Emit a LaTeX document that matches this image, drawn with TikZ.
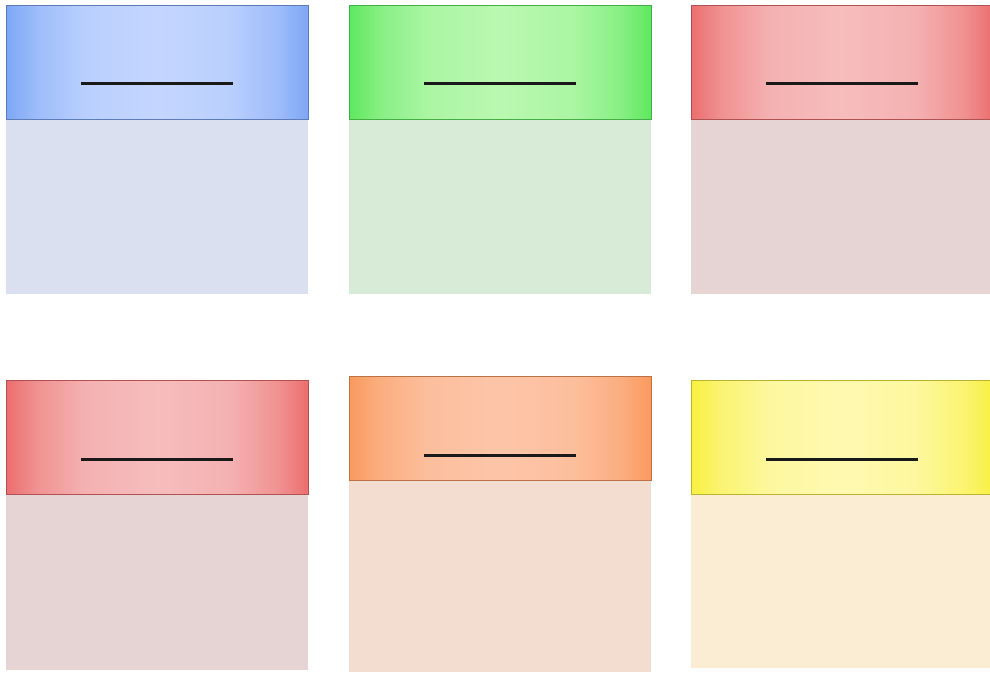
\documentclass[tikz,border=0pt]{standalone}
\definecolor{bE}{HTML}{7DA7F5}\definecolor{bC}{HTML}{C4D6FF}\definecolor{bB}{HTML}{DAE0F0}
\definecolor{gE}{HTML}{5EE85E}\definecolor{gC}{HTML}{B9F8B0}\definecolor{gB}{HTML}{D8EBD6}
\definecolor{rE}{HTML}{EC6E6E}\definecolor{rC}{HTML}{F6BDBD}\definecolor{rB}{HTML}{E6D3D3}
\definecolor{oE}{HTML}{F99A5E}\definecolor{oC}{HTML}{FDC5A8}\definecolor{oB}{HTML}{F2DDD0}
\definecolor{yE}{HTML}{F8F040}\definecolor{yC}{HTML}{FEF9B0}\definecolor{yB}{HTML}{FBEDD3}
\newcommand{\mkshade}[3]{%
  \pgfdeclarehorizontalshading{#1}{100bp}{%
    color(0bp)=(#2); color(25bp)=(#2);
    color(30bp)=(#3!45!#2); color(38bp)=(#3!85!#2); color(50bp)=(#3);
    color(62bp)=(#3!85!#2); color(70bp)=(#3!45!#2); color(75bp)=(#2); color(100bp)=(#2)}}
\mkshade{shB}{bE}{bC}
\mkshade{shG}{gE}{gC}
\mkshade{shR}{rE}{rC}
\mkshade{shO}{oE}{oC}
\mkshade{shY}{yE}{yC}
\begin{document}
\begin{tikzpicture}[x=1pt,y=-1pt,
  hdr/.style={draw=#1!75!black, line width=0.5pt, rectangle, inner sep=0pt, anchor=north west, minimum width=302pt, minimum height=114pt},
  bodybox/.style={rectangle, inner sep=0pt, anchor=north west, minimum width=302pt},
  bar/.style={line width=2.6pt, black!90}]
\useasboundingbox (0,0) rectangle (990,672);
\fill[white] (0,0) rectangle (990,672);
% row 1
\node[bodybox, fill=bB, minimum height=175pt] (b1) at (6,119) {};
\node[hdr=bE, shading=shB] (h1) at (6,5) {};
\node[bodybox, fill=gB, minimum height=175pt] (b2) at (349,119) {};
\node[hdr=gE, shading=shG] (h2) at (349,5) {};
\node[bodybox, fill=rB, minimum height=175pt] (b3) at (691,119) {};
\node[hdr=rE, shading=shR] (h3) at (691,5) {};
% row 2
\node[bodybox, fill=rB, minimum height=176pt] (b4) at (6,494) {};
\node[hdr=rE, shading=shR] (h4) at (6,380) {};
\node[bodybox, fill=oB, minimum height=192pt] (b5) at (349,480) {};
\node[hdr=oE, shading=shO, minimum height=104pt] (h5) at (349,376) {};
\node[bodybox, fill=yB, minimum height=174pt] (b6) at (691,494) {};
\node[hdr=yE, shading=shY] (h6) at (691,380) {};
% bars
\foreach \h/\dy in {h1/21,h2/21,h3/21,h4/22,h5/27,h6/22}{
  \draw[bar] ([xshift=-76pt,yshift=-\dy pt]\h.center) -- ([xshift=76pt,yshift=-\dy pt]\h.center);
}
\end{tikzpicture}
\end{document}
